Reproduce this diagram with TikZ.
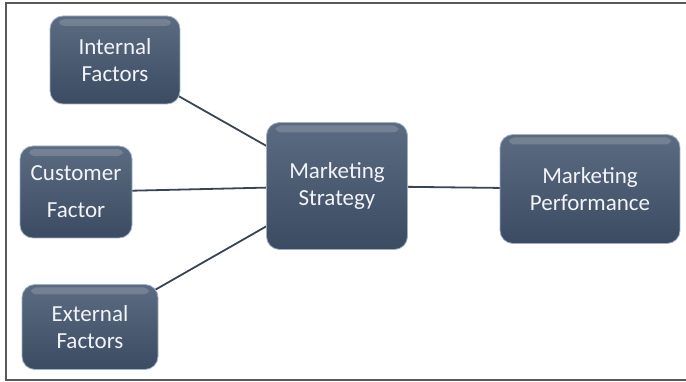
\documentclass[tikz,border=0pt]{standalone}
\usepackage{fontspec}
\setmainfont{Carlito}
\usetikzlibrary{backgrounds}
\definecolor{boxtop}{HTML}{5B6B81}
\definecolor{boxbot}{HTML}{3B4B61}
\definecolor{boxedge}{HTML}{9FB0C6}
\definecolor{boxtext}{HTML}{F2F4F7}
\definecolor{linkcol}{HTML}{3A4554}
\tikzset{
  box/.style={rectangle, rounded corners=13pt, draw=boxedge, line width=0.8pt,
    top color=boxtop, bottom color=boxbot, text=boxtext,
    font=\fontsize{23}{27}\selectfont, align=center, inner sep=0pt,
    path picture={\fill[white,opacity=0.16,rounded corners=5pt]
      ([xshift=9pt,yshift=-3pt]path picture bounding box.north west) rectangle
      ([xshift=-9pt,yshift=-10pt]path picture bounding box.north east);}},
  link/.style={draw=linkcol, line width=1.8pt}
}
\begin{document}
\begin{tikzpicture}[x=1pt,y=-1pt]
\useasboundingbox (0,0) rectangle (686,382);
\draw[draw=black!65, line width=1.2pt] (686,3) -- (6,3) -- (6,380) -- (686,380);
\node[box, minimum width=130pt, minimum height=88pt] (int) at (115,60) {Internal\\Factors};
\node[box, minimum width=112pt, minimum height=92pt, font=\fontsize{23}{37}\selectfont] (cus) at (76,192) {Customer\\Factor};
\node[box, minimum width=136pt, minimum height=85pt] (ext) at (90,327) {External\\Factors};
\node[box, minimum width=141pt, minimum height=127pt] (str) at (337,186) {Marketing\\Strategy};
\node[box, minimum width=180pt, minimum height=109pt] (per) at (590,189) {Marketing\\Performance};
\begin{pgfonlayer}{background}
\draw[link] (int.center) -- (str.center);
\draw[link] (cus.center) -- (str.center);
\draw[link] (ext.center) -- (str.center);
\draw[link] (str.center) -- (per.center);
\end{pgfonlayer}
\end{tikzpicture}
\end{document}
